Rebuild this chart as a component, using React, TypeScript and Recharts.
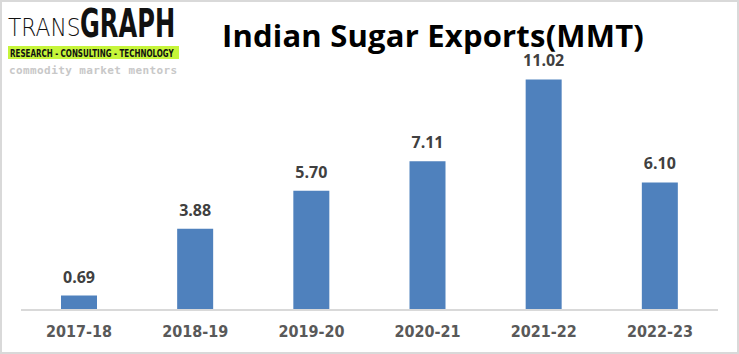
import { Bar, BarChart, LabelList, XAxis, YAxis } from "recharts";

const seasons = ["2017-18", "2018-19", "2019-20", "2020-21", "2021-22", "2022-23"];
const exportsMmt = [0.69, 3.88, 5.7, 7.11, 11.02, 6.1];

const rows = seasons.map((season, i) => ({ season, value: exportsMmt[i] }));

const narrow = "'Liberation Sans Narrow', 'DejaVu Sans Condensed', sans-serif";

function Logo() {
  return (
    <svg width={200} height={80} style={{ position: "absolute", left: 0, top: 0 }}>
      <text transform="translate(8,36) scale(0.87,1)" fontFamily="'DejaVu Sans'" fontWeight={200} fontSize={25} fill="#111">
        TRANS
      </text>
      <text transform="translate(80,36.5) scale(0.62,1)" fontFamily="'DejaVu Sans'" fontWeight={700} fontSize={39} fill="#111">
        GRAPH
      </text>
      <rect x={8} y={46} width={171} height={13} fill="#c6f53a" />
      <text transform="translate(10,57) scale(0.65,1)" fontFamily="'DejaVu Sans'" fontWeight={700} fontSize={11} fill="#111">
        RESEARCH - CONSULTING - TECHNOLOGY
      </text>
      <text x={9} y={74} fontFamily="'DejaVu Sans Mono', monospace" fontWeight={700} fontSize={11} letterSpacing={0.4} fill="#c8c8c8">
        commodity market mentors
      </text>
    </svg>
  );
}

export default function App() {
  return (
    <div style={{ position: "absolute", left: 0, top: 0, width: 739, height: 354, background: "#fff" }}>
      <div style={{ position: "absolute", left: 0, top: 0, width: 735, height: 350, border: "2px solid #d9d9d9" }} />
      <Logo />
      <svg width={739} height={60} style={{ position: "absolute", left: 0, top: 0 }}>
        <text
          x={433}
          y={47}
          textAnchor="middle"
          fontFamily="'Open Sans', sans-serif"
          fontWeight={700}
          fontSize={31}
          letterSpacing={0.2}
          fill="#000"
        >
          Indian Sugar Exports(MMT)
        </text>
      </svg>
      <div style={{ position: "absolute", left: 0, top: 0 }}>
        <BarChart width={739} height={354} data={rows} margin={{ top: 59, right: 21, bottom: 0, left: 21 }}>
          <YAxis hide domain={[0, 12]} />
          <XAxis
            dataKey="season"
            height={44}
            tickLine={false}
            axisLine={{ stroke: "#d9d9d9", strokeWidth: 2 }}
            tick={{ fill: "#595959", fontSize: 16, fontWeight: 700, fontFamily: narrow }}
            tickMargin={10}
          />
          <Bar dataKey="value" fill="#4f81bd" barSize={36} isAnimationActive={false}>
            <LabelList
              dataKey="value"
              position="top"
              offset={13}
              formatter={(v: number) => v.toFixed(2)}
              style={{ fill: "#404040", fontSize: 16, fontWeight: 700, fontFamily: "'Open Sans', sans-serif" }}
            />
          </Bar>
        </BarChart>
      </div>
    </div>
  );
}
